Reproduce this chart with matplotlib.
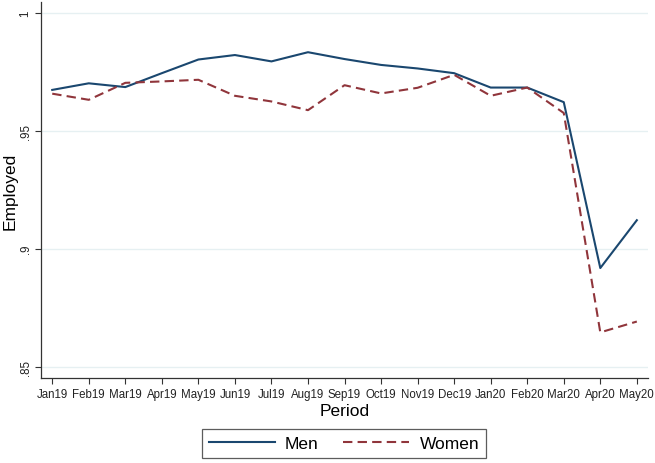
import matplotlib
matplotlib.use('Agg')
import matplotlib.pyplot as plt

periods = ['Jan19', 'Feb19', 'Mar19', 'Apr19', 'May19', 'Jun19', 'Jul19', 'Aug19',
           'Sep19', 'Oct19', 'Nov19', 'Dec19', 'Jan20', 'Feb20', 'Mar20', 'Apr20', 'May20']
men = [0.9674, 0.9702, 0.9686, 0.9745, 0.9803, 0.9822, 0.9795, 0.9834,
       0.9805, 0.9780, 0.9765, 0.9745, 0.9684, 0.9684, 0.9622, 0.8918, 0.9121]
women = [0.9658, 0.9632, 0.9704, 0.9710, 0.9717, 0.9649, 0.9625, 0.9588,
         0.9694, 0.9659, 0.9683, 0.9738, 0.9649, 0.9684, 0.9576, 0.8645, 0.8691]
yticks = [0.85, 0.9, 0.95, 1.0]
ytick_labels = ['.85', '.9', '.95', '1']

plt.rcParams['font.family'] = ['Liberation Sans', 'DejaVu Sans']

fig = plt.figure(figsize=(6.55, 4.64), dpi=100)
ax = fig.add_axes([0.063, 0.1825, 0.926, 0.811])

x = list(range(len(periods)))
ax.plot(x, men, color='#1a476f', lw=1.5, label='Men')
ax.plot(x, women, color='#90353b', lw=1.5, dashes=(4.5, 2.5), label='Women')

ax.set_xlim(-0.3, 16.3)
ax.set_ylim(0.845, 1.0047)
ax.set_xticks(x)
ax.set_xticklabels(periods, fontsize=8.3, color='#222222')
ax.set_yticks(yticks)
ax.set_yticklabels(ytick_labels, fontsize=8.3, rotation=90, va='center', color='#222222')
ax.grid(axis='y', color='#e6f0f2', lw=1)
ax.set_axisbelow(True)
ax.tick_params(length=4, width=0.8, color='#333333', pad=3)

for s in ['top', 'right']:
    ax.spines[s].set_visible(False)
for s in ['left', 'bottom']:
    ax.spines[s].set_color('#333333')
    ax.spines[s].set_linewidth(0.9)

ax.set_xlabel('Period', fontsize=12.5, labelpad=2)
ax.set_ylabel('Employed', fontsize=12.5, va='center')
ax.yaxis.set_label_coords(-0.052, 0.5)

leg = fig.legend(loc='center', bbox_to_anchor=(0.525, 0.042), ncol=2, fontsize=12.5,
                 frameon=True, fancybox=False, edgecolor='#333333', handlelength=3.8,
                 handletextpad=0.6, columnspacing=1.4, borderpad=0.4)
leg.get_frame().set_linewidth(0.9)

fig.savefig('out.png', dpi=100)
